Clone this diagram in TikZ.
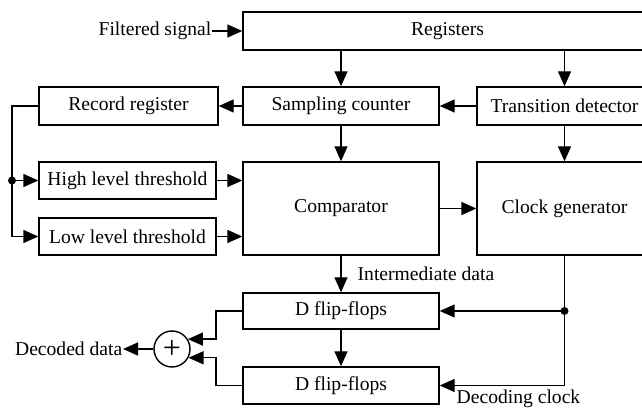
\documentclass[tikz,border=0pt]{standalone}
\usepackage{fontspec}
\setmainfont{Liberation Serif}
\usetikzlibrary{arrows.meta}
\begin{document}
\begin{tikzpicture}[x=0.5pt,y=-0.5pt,line width=0.7pt,
  every node/.style={font=\fontsize{9.8}{11.8}\selectfont},
  blk/.style={draw,inner sep=0pt,align=center},
  lbl/.style={inner sep=0pt},
  arr/.style={-{Triangle[length=7.5pt,width=6.5pt]}},
  junction/.style={circle,fill,inner sep=0pt,minimum size=4pt}]
\useasboundingbox (0,0) rectangle (642,410);

% blocks
\node[blk,minimum width=204.5pt,minimum height=19pt] (reg) at (447.5,31) {Registers};
\node[blk,minimum width=89.5pt,minimum height=19pt] (rec) at (128.5,106) {Record register};
\node[blk,minimum width=98pt,minimum height=19pt] (samp) at (341,106) {Sampling counter};
\node[blk,minimum width=87.5pt,minimum height=19pt] (trans) at (564.5,106) {Transition detector};
\node[blk,minimum width=88.5pt,minimum height=18.5pt] (high) at (127.5,180.5) {High level threshold};
\node[blk,minimum width=88.5pt,minimum height=18.5pt] (low) at (127.5,236.5) {Low level threshold};
\node[blk,minimum width=98pt,minimum height=46.5pt] (comp) at (341,208.5) {Comparator};
\node[blk,minimum width=87.5pt,minimum height=46.5pt] (clk) at (564.5,208.5) {Clock generator};
\node[blk,minimum width=98pt,minimum height=18pt] (ff1) at (341,311) {D flip-flops};
\node[blk,minimum width=98pt,minimum height=18.5pt] (ff2) at (341,385.5) {D flip-flops};
\node[draw,circle,inner sep=0pt,minimum size=18pt] (sum) at (172,349) {};
\node[inner sep=0pt,font=\fontsize{16}{16}\selectfont] at (sum.center) {+};

% labels
\node[lbl,anchor=east] (fs) at (212,31) {Filtered signal};
\node[lbl,anchor=east] (dec) at (123,349) {Decoded data};
\node[lbl,anchor=west] (imd) at (357,274) {Intermediate data};
\node[lbl,anchor=west] (dclk) at (456,399) {Decoding clock};

% connectors
\draw[arr] (fs.east) -- (reg.west);
\draw[arr] (reg.south -| samp.north) -- (samp.north);
\draw[arr] (reg.south -| trans.north) -- (trans.north);
\draw[arr] (trans.west) -- (samp.east);
\draw[arr] (samp.west) -- (rec.east);
\draw[arr] (samp.south) -- (comp.north);
\draw[arr] (trans.south) -- (clk.north);
\draw[arr] (high.east) -- (comp.west |- high.east);
\draw[arr] (low.east) -- (comp.west |- low.east);
\draw[arr] (comp.east) -- (clk.west);
\draw[arr] (comp.south) -- (ff1.north);
\draw[arr] (ff1.south) -- (ff2.north);

% threshold feed from the record register
\coordinate (busj) at (12,180.5);
\draw[arr] (rec.west) -- (12,106) |- (low.west);
\draw[arr] (busj) -- (high.west);
\node[junction] at (busj) {};

% decoding clock distribution
\coordinate (clkj) at (clk.south |- ff1.east);
\draw[arr] (clk.south) |- (ff2.east);
\draw[arr] (clkj) -- (ff1.east);
\node[junction] at (clkj) {};

% outputs combined
\draw[arr] (ff1.west) -- (216,311) |- (sum.32);
\draw[arr] (ff2.west) -- (216,385.5) |- (sum.-28);
\draw[arr] (sum.west) -- (dec.east);
\end{tikzpicture}
\end{document}
